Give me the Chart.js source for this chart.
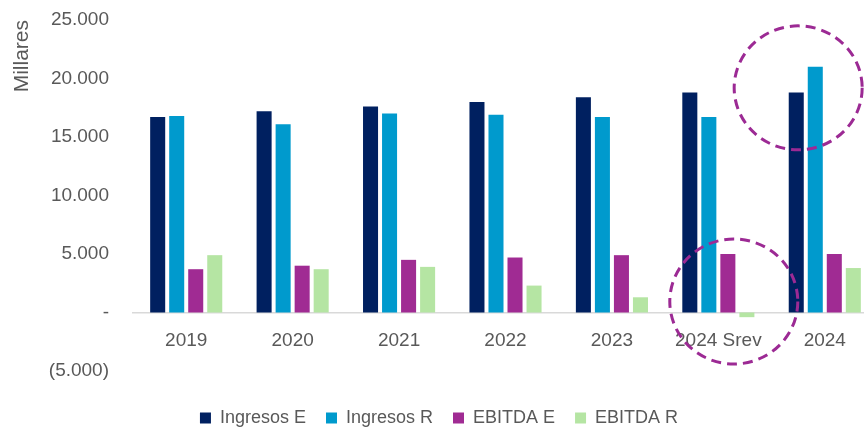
<!DOCTYPE html>
<html>
<head>
<meta charset="utf-8">
<script src="https://cdn.jsdelivr.net/npm/chart.js@4.4.0/dist/chart.umd.min.js"></script>
<style>
  html, body { margin: 0; padding: 0; background: #fff; overflow: hidden; }
  #wrap { width: 878px; height: 428px; }
</style>
</head>
<body>
<div id="wrap"><canvas id="myChart"></canvas></div>
<script>
const labels = ["2019", "2020", "2021", "2022", "2023", "2024 Srev", "2024"];

const ingresosE = [16700, 17200, 17600, 18000, 18400, 18800, 18800];
const ingresosR = [16800, 16100, 17000, 16900, 16700, 16700, 21000];
const ebitdaE = [3700, 4000, 4500, 4700, 4900, 5000, 5000];
const ebitdaR = [4900, 3700, 3900, 2300, 1300, -400, 3800];

const yTicks = [-5000, 0, 5000, 10000, 15000, 20000, 25000];

// dashed rings around the 2024 values (category index, x shift in categories, value at centre)
const rings = [
  { cat: 6, shift: -0.25, value: 19200, rx: 64, ry: 62 },
  { cat: 5, shift: 0.145, value: 940, rx: 64, ry: 62.5 },
];

const grey = "#595959";
const font = "'Liberation Sans', Arial, sans-serif";

const fmt = (v) => String(v).replace(/\B(?=(\d{3})+(?!\d))/g, ".");

const ringPlugin = {
  id: "rings",
  afterDatasetsDraw(chart) {
    const ctx = chart.ctx;
    const x = chart.scales.x;
    const y = chart.scales.y;
    const step = x.getPixelForValue(1) - x.getPixelForValue(0);
    ctx.save();
    ctx.strokeStyle = "#9C2A94";
    ctx.lineWidth = 3;
    ctx.setLineDash([10, 6]);
    rings.forEach((r) => {
      const cx = x.getPixelForValue(r.cat) + r.shift * step;
      const cy = y.getPixelForValue(r.value);
      ctx.beginPath();
      ctx.ellipse(cx, cy, r.rx, r.ry, 0, 0, Math.PI * 2);
      ctx.stroke();
    });
    ctx.restore();
  },
};

new Chart(document.getElementById("myChart"), {
  type: "bar",
  data: {
    labels,
    datasets: [
      { label: "Ingresos E", data: ingresosE, backgroundColor: "#002060" },
      { label: "Ingresos R", data: ingresosR, backgroundColor: "#009ACD" },
      { label: "EBITDA E", data: ebitdaE, backgroundColor: "#A02B93" },
      { label: "EBITDA R", data: ebitdaR, backgroundColor: "#B5E5A3" },
    ],
  },
  options: {
    responsive: true,
    maintainAspectRatio: false,
    animation: false,
    categoryPercentage: 0.715,
    barPercentage: 0.79,
    layout: { padding: { top: 20, right: 0, left: 0, bottom: -9 } },
    plugins: {
      tooltip: { enabled: false },
      legend: {
        position: "bottom",
        labels: {
          boxWidth: 11,
          boxHeight: 11,
          padding: 20,
          color: grey,
          font: { family: font, size: 18 },
        },
      },
    },
    scales: {
      x: {
        position: { y: 0 },
        grid: { display: false, drawTicks: false },
        border: { display: true, color: "#D9D9D9", width: 1.5 },
        ticks: { color: grey, padding: 17, font: { family: font, size: 19 } },
      },
      // empty strip that keeps the legend clear of the (5.000) row
      gap: {
        type: "linear",
        axis: "x",
        position: "bottom",
        ticks: { display: false },
        grid: { display: false, drawTicks: false },
        border: { display: false },
        afterFit(scale) {
          scale.height = 18;
        },
      },
      y: {
        min: -5000,
        max: 25000,
        afterBuildTicks(scale) {
          scale.ticks = yTicks.map((v) => ({ value: v }));
        },
        afterFit(scale) {
          scale.width = 133;
          // tick padding is horizontal here, don't let it push the plot down
          scale.paddingTop = 0;
          scale.paddingBottom = 0;
        },
        grid: { display: false, drawTicks: false },
        border: { display: false },
        ticks: {
          color: grey,
          padding: 24,
          font: { family: font, size: 19 },
          callback: (v) => (v === 0 ? "-" : v < 0 ? "(" + fmt(-v) + ")" : fmt(v)),
        },
        title: {
          display: true,
          text: "Millares",
          align: "end",
          color: grey,
          padding: { top: 10, bottom: 0 },
          font: { family: font, size: 21 },
        },
      },
    },
  },
  plugins: [ringPlugin],
});
</script>
</body>
</html>
